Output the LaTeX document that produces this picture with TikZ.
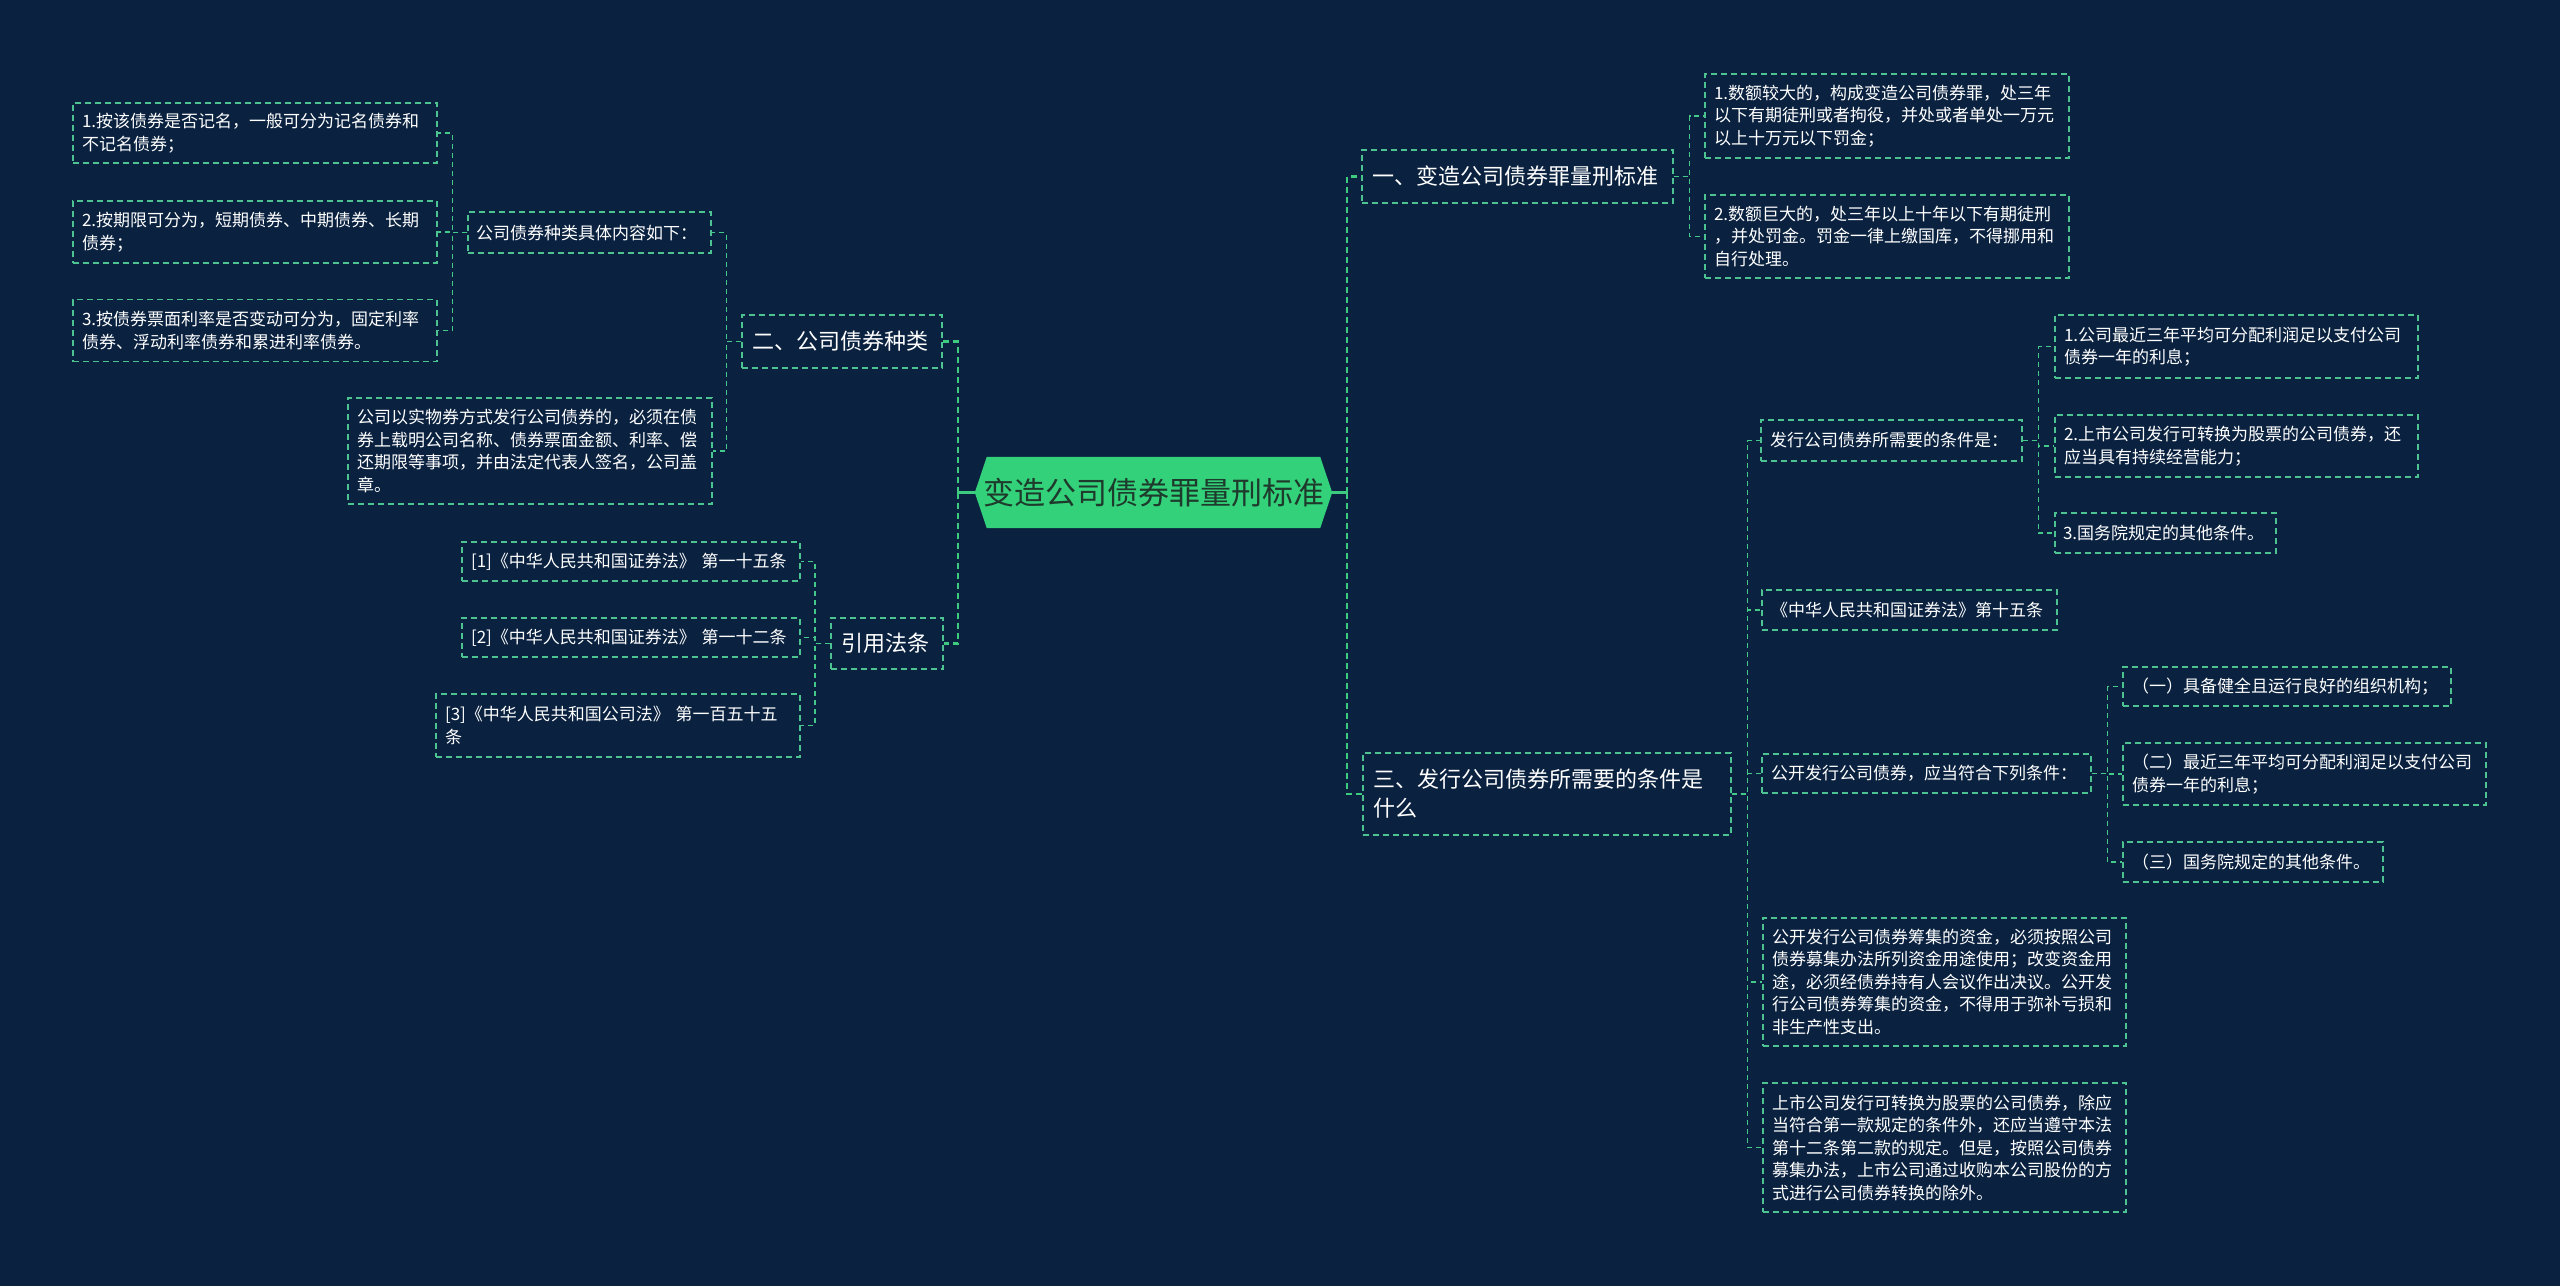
\documentclass[tikz,border=0pt]{standalone}
\usepackage{fontspec}
\newfontfamily\cjk{Noto Sans CJK SC}
\usetikzlibrary{calc}
\definecolor{bg}{HTML}{0A2240}
\definecolor{boxgreen}{HTML}{4EC392}
\definecolor{linkgreen}{HTML}{45C98A}
\definecolor{trunkgreen}{HTML}{3CCB7F}
\definecolor{rootgreen}{HTML}{33D27A}
\definecolor{roottext}{HTML}{1E3A2C}
\pgfdeclarelayer{bgl}
\pgfdeclarelayer{back}
\pgfsetlayers{bgl,back,main}
\begin{document}
\begin{tikzpicture}[x=1pt,y=-1pt,
  box/.style={draw=boxgreen, dash pattern=on 6pt off 4pt, line width=1.3pt,
    text=white, font=\cjk\fontsize{17}{22.5}\selectfont, align=left,
    inner xsep=9pt, inner ysep=0pt, anchor=center},
  lone/.style={box, font=\cjk\fontsize{22}{29}\selectfont, inner xsep=10pt},
  roottxt/.style={text=roottext, font=\cjk\fontsize{31}{37}\selectfont,
    minimum width=357pt, minimum height=71pt, inner sep=0pt, anchor=center},
  rootlink/.style={draw=trunkgreen, line width=2.4pt},
  mainlink/.style={draw=trunkgreen, line width=2.4pt, dash pattern=on 6pt off 4pt},
  link/.style={draw=linkgreen, line width=1.3pt, dash pattern=on 5pt off 4pt}
]
\begin{pgfonlayer}{bgl}
\fill[bg] (0,0) rectangle (2560,1286);
\end{pgfonlayer}
\useasboundingbox (0,0) rectangle (2560,1286);

% root
\node[roottxt] (root) at (1153.5,492.5) {变造公司债券罪量刑标准};
\begin{pgfonlayer}{back}
\fill[rootgreen] (root.west) -- ([xshift=12pt]root.north west) -- ([xshift=-12pt]root.north east)
  -- (root.east) -- ([xshift=-12pt]root.south east) -- ([xshift=12pt]root.south west) -- cycle;
\end{pgfonlayer}

% ---------- left side ----------
\node[lone, text width=180pt, minimum height=53pt] (L2) at (842,341.5) {二、公司债券种类};
\node[lone, text width=92pt, minimum height=51pt] (L3) at (887,643.5) {引用法条};

\node[box, text width=227pt, inner xsep=8pt, minimum height=41pt] (Ntype) at (589.5,232.5) {公司债券种类具体内容如下：};
\node[box, text width=346pt, minimum height=60pt] (N1a) at (255,133) {1.按该债券是否记名，一般可分为记名债券和\\不记名债券；};
\node[box, text width=346pt, minimum height=62pt] (N1b) at (255,232) {2.按期限可分为，短期债券、中期债券、长期\\债券；};
\node[box, text width=346pt, minimum height=62pt] (N1c) at (255,330.5) {3.按债券票面利率是否变动可分为，固定利率\\债券、浮动利率债券和累进利率债券。};
\node[box, text width=346pt, minimum height=106pt] (Ncash) at (530,451) {公司以实物券方式发行公司债券的，必须在债\\券上载明公司名称、债券票面金额、利率、偿\\还期限等事项，并由法定代表人签名，公司盖\\章。};

\node[box, text width=320pt, minimum height=39pt] (R1) at (631,561.5) {[1]《中华人民共和国证券法》 第一十五条};
\node[box, text width=320pt, minimum height=39pt] (R2) at (631,637.5) {[2]《中华人民共和国证券法》 第一十二条};
\node[box, text width=346pt, minimum height=63pt] (R3) at (618,725.5) {[3]《中华人民共和国公司法》 第一百五十五\\条};

% ---------- right side ----------
\node[lone, text width=291pt, minimum height=53pt] (A) at (1517.5,176.5) {一、变造公司债券罪量刑标准};
\node[lone, text width=348pt, minimum height=82pt] (C) at (1547,794) {三、发行公司债券所需要的条件是\\什么};

\node[box, text width=346pt, minimum height=84pt] (A1) at (1887,116) {1.数额较大的，构成变造公司债券罪，处三年\\以下有期徒刑或者拘役，并处或者单处一万元\\以上十万元以下罚金；};
\node[box, text width=346pt, minimum height=83pt] (A2) at (1887,236.5) {2.数额巨大的，处三年以上十年以下有期徒刑\\，并处罚金。罚金一律上缴国库，不得挪用和\\自行处理。};

\node[box, text width=243pt, minimum height=41pt] (C1) at (1891.5,440.5) {发行公司债券所需要的条件是：};
\node[box, text width=345pt, minimum height=63pt] (C1a) at (2236.5,346.5) {1.公司最近三年平均可分配利润足以支付公司\\债券一年的利息；};
\node[box, text width=345pt, minimum height=62pt] (C1b) at (2236.5,446) {2.上市公司发行可转换为股票的公司债券，还\\应当具有持续经营能力；};
\node[box, text width=205pt, inner xsep=8pt, minimum height=40pt] (C1c) at (2165.5,533) {3.国务院规定的其他条件。};

\node[box, text width=277pt, minimum height=40pt] (C2) at (1909.5,610) {《中华人民共和国证券法》第十五条};

\node[box, text width=311pt, minimum height=39pt] (C3) at (1926.5,773.5) {公开发行公司债券，应当符合下列条件：};
\node[box, text width=310pt, minimum height=39pt] (C3a) at (2287,686.5) {（一）具备健全且运行良好的组织机构；};
\node[box, text width=345pt, minimum height=62pt] (C3b) at (2304.5,774) {（二）最近三年平均可分配利润足以支付公司\\债券一年的利息；};
\node[box, text width=242pt, minimum height=40pt] (C3c) at (2253,862) {（三）国务院规定的其他条件。};

\node[box, text width=345pt, minimum height=128pt] (C4) at (1944.5,982) {公开发行公司债券筹集的资金，必须按照公司\\债券募集办法所列资金用途使用；改变资金用\\途，必须经债券持有人会议作出决议。公开发\\行公司债券筹集的资金，不得用于弥补亏损和\\非生产性支出。};
\node[box, text width=345pt, minimum height=129pt] (C5) at (1944.5,1147.5) {上市公司发行可转换为股票的公司债券，除应\\当符合第一款规定的条件外，还应当遵守本法\\第十二条第二款的规定。但是，按照公司债券\\募集办法，上市公司通过收购本公司股份的方\\式进行公司债券转换的除外。};

% ---------- connectors ----------
\coordinate (tL) at (958,492.5);
\coordinate (tR) at (1347,492.5);
\draw[rootlink] (root.west) -- (tL);
\draw[rootlink] (root.east) -- (tR);
\draw[mainlink] (tL) |- (L2.east);
\draw[mainlink] (tL) |- (L3.east);
\draw[mainlink] (tR) |- (A.west);
\draw[mainlink] (tR) |- (C.west);

\foreach \k in {Ntype,Ncash} \draw[link] (L2.west) -- ++(-15,0) |- (\k.east);
\foreach \k in {N1a,N1b,N1c} \draw[link] (Ntype.west) -- ++(-15,0) |- (\k.east);
\foreach \k in {R1,R2,R3} \draw[link] (L3.west) -- ++(-15.5,0) |- (\k.east);

\foreach \k in {A1,A2} \draw[link] (A.east) -- ++(16,0) |- (\k.west);
\foreach \k in {C1,C2,C3,C4,C5} \draw[link] (C.east) -- ++(16,0) |- (\k.west);
\foreach \k in {C1a,C1b,C1c} \draw[link] (C1.east) -- ++(16,0) |- (\k.west);
\foreach \k in {C3a,C3b,C3c} \draw[link] (C3.east) -- ++(16,0) |- (\k.west);
\end{tikzpicture}
\end{document}
